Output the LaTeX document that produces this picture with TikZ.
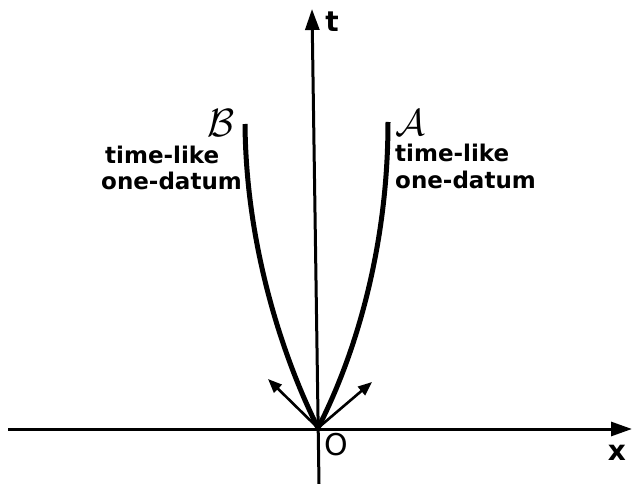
\documentclass[tikz,border=0pt]{standalone}
\usepackage{fontspec}
\setmainfont{DejaVu Sans}
\usetikzlibrary{arrows.meta}
\begin{document}
\begin{tikzpicture}[x=1pt,y=-1pt,
  axis/.style={line width=3pt,-{Triangle[length=21pt,width=14pt]}},
  curve/.style={line width=5pt},
  dir/.style={line width=2.6pt,-{Triangle[length=14pt,width=11pt]}},
  lbl/.style={font=\bfseries\fontsize{23}{25}\selectfont,inner sep=0pt},
  axlbl/.style={font=\bfseries\fontsize{28}{30}\selectfont,inner sep=0pt},
  olbl/.style={font=\fontsize{30}{32}\selectfont,inner sep=0pt},
  scr/.style={font=\fontsize{20}{22}\selectfont,inner sep=0pt}]
\useasboundingbox (0,0) rectangle (633,484);
\coordinate (O) at (318,428);
\coordinate (xl) at (8,429);
\coordinate (xr) at (632,429);
\coordinate (tb) at (319,484);
\coordinate (tt) at (312,9);
\coordinate (da) at (372,382);
\coordinate (db) at (268,379);
\draw[axis] (xl) -- (xr);
\draw[axis] (tb) -- (tt);
\draw[curve] (O) .. controls (354,358) and (388,250) .. (388,122);
\draw[curve] (O) .. controls (285,362) and (246,250) .. (245,124);
\draw[dir] (O) -- (da);
\draw[dir] (O) -- (db);
\node[axlbl] (tlab) at (332,22) {t};
\node[axlbl] (xlab) at (617,453) {x};
\node[olbl] (olab) at (336,445) {O};
\node[scr,scale=1.9] (blab) at (221,123) {$\mathcal{B}$};
\node[scr,scale=1.8] (alab) at (410,123) {$\mathcal{A}$};
\node[lbl,anchor=base west] (l1) at (105,164) {time-like};
\node[lbl,anchor=base west] (l2) at (101,190) {one-datum};
\node[lbl,anchor=base west] (r1) at (395,162) {time-like};
\node[lbl,anchor=base west] (r2) at (395,189) {one-datum};
\end{tikzpicture}
\end{document}
